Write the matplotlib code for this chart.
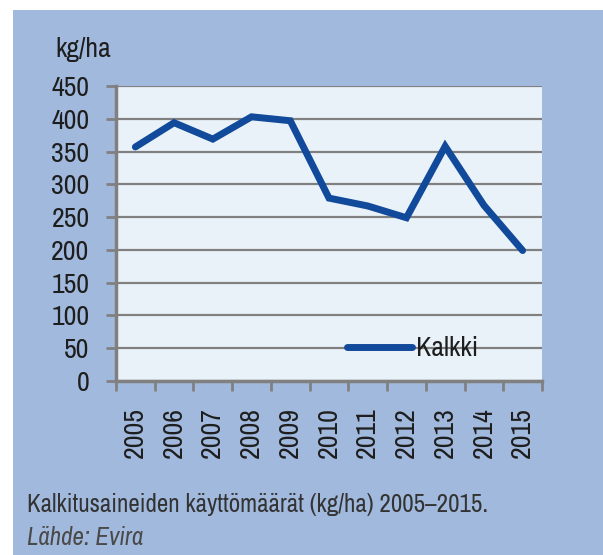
import matplotlib
matplotlib.use('Agg')
import matplotlib.pyplot as plt
from matplotlib.patches import Rectangle
from matplotlib.ticker import FixedLocator, MultipleLocator

plt.rcParams['font.family'] = ['Liberation Sans Narrow', 'Arial Narrow', 'Archivo Narrow',
                               'Roboto Condensed', 'PT Sans Narrow', 'Liberation Sans',
                               'DejaVu Sans']

# kalkitusaineiden käyttö, kg/ha
vuodet = ['2005', '2006', '2007', '2008', '2009', '2010', '2011', '2012', '2013', '2014', '2015']
kalkki = [357, 394, 369, 403, 397, 279, 267, 249, 358, 268, 199]

W, H = 603, 555
fig = plt.figure(figsize=(W / 100, H / 100), dpi=100, facecolor='white')

# sininen taustalaatikko
fig.patches.append(Rectangle((13 / W, 0), 1 - 13 / W, 1 - 10 / H,
                             transform=fig.transFigure, facecolor='#a1b9dd',
                             edgecolor='none', zorder=-10))

ax = fig.add_axes([116 / W, (H - 381) / H, 426 / W, 295 / H])
ax.set_facecolor('#eaf2f9')

x = range(len(vuodet))
ax.plot(x, kalkki, color='#124a9b', lw=5, solid_capstyle='round',
        solid_joinstyle='miter', label='Kalkki', zorder=3)

ax.set_xlim(-0.5, len(vuodet) - 0.5)
ax.set_ylim(0, 450)
ax.yaxis.set_major_locator(MultipleLocator(50))
ax.grid(axis='y', color='#808080', lw=1.6, zorder=1)
ax.set_axisbelow(True)

# vuosien väliset jakoviivat, nimet keskelle
ax.xaxis.set_major_locator(FixedLocator([i - 0.5 for i in range(len(vuodet) + 1)]))
ax.xaxis.set_minor_locator(FixedLocator(list(x)))
ax.set_xticklabels([])
ax.set_xticklabels(vuodet, minor=True, rotation=90, fontsize=20, color='#1e1e1e')
ax.tick_params(axis='x', which='major', length=7, width=2, color='#808080')
ax.tick_params(axis='x', which='minor', length=0, pad=19)
ax.tick_params(axis='y', length=7, width=2, color='#808080', pad=12,
               labelsize=20, labelcolor='#1e1e1e')

for s in ['top', 'right']:
    ax.spines[s].set_visible(False)
for s in ['left', 'bottom']:
    ax.spines[s].set_color('#808080')
    ax.spines[s].set_linewidth(2.5)

fig.text(55 / W, 1 - 57 / H, 'kg/ha', fontsize=20, color='#1e1e1e', va='baseline')

ax.legend(loc='center left', bbox_to_anchor=((347 - 116) / 426, (381 - 349) / 295),
          frameon=False, fontsize=20, borderpad=0, borderaxespad=0,
          handlelength=2.35, handletextpad=0.15, labelcolor='#1e1e1e')

fig.text(27 / W, 1 - 512 / H, 'Kalkitusaineiden käyttömäärät (kg/ha) 2005–2015.',
         fontsize=18, color='#333333', va='baseline')
fig.text(27 / W, 1 - 545 / H, 'Lähde: Evira', fontsize=18, color='#4a4a4a',
         style='italic', va='baseline')

fig.savefig('out.png', dpi=100)
